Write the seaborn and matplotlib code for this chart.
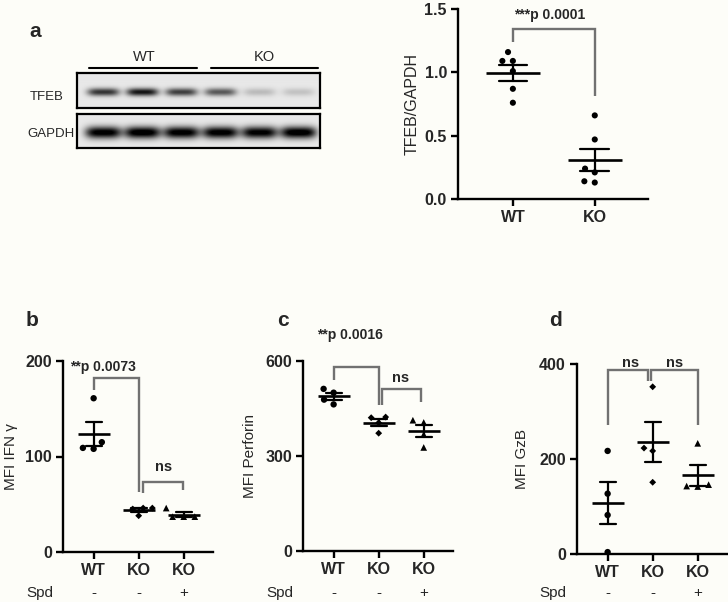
import numpy as np
import pandas as pd
import matplotlib
matplotlib.use("Agg")
import matplotlib.pyplot as plt
import seaborn as sns

# ---- data -------------------------------------------------------------
# panel a: western blot band strengths (WT x3, KO x3) + quantification
blot_groups = ["WT", "KO"]
tfeb_bands = [0.72, 0.85, 0.68, 0.58, 0.18, 0.15]
gapdh_bands = [0.97, 1.00, 0.97, 0.97, 0.95, 1.00]

tfeb_wt = [1.16, 1.09, 1.09, 1.01, 0.87, 0.76]
tfeb_ko = [0.66, 0.47, 0.24, 0.21, 0.14, 0.13]

# panels b-d
groups = ["WT", "KO", "KO+Spd"]
group_ticks = ["WT", "KO", "KO"]
spd_signs = ["-", "-", "+"]

ifng_wt = [161, 115, 109, 108]
ifng_ko = [46, 46, 45, 38]
ifng_spd = [46, 37, 37, 37]

perf_wt = [512, 500, 478, 463]
perf_ko = [423, 421, 405, 372]
perf_spd = [413, 406, 368, 327]

gzb_wt = [217, 127, 82, 4]
gzb_ko = [352, 223, 217, 151]
gzb_spd = [233, 146, 143, 142]

# ---- style ------------------------------------------------------------
BG = "#fdfdf8"
GREY = "#717171"
W, H = 728, 602

sns.set_style("ticks")
plt.rcParams["font.family"] = ["Liberation Sans", "DejaVu Sans"]
plt.rcParams["axes.facecolor"] = BG

fig = plt.figure(figsize=(W / 100, H / 100), dpi=100, facecolor=BG)


def box(x0, y0, x1, y1):
    # pixel box -> figure fraction rect
    return [x0 / W, 1 - y1 / H, (x1 - x0) / W, (y1 - y0) / H]


def ftext(x, y, s, **kw):
    fig.text(x / W, 1 - y / H, s, **kw)


def long_df(*cols):
    rows = [(g, v) for g, vals in zip(groups, cols) for v in vals]
    return pd.DataFrame(rows, columns=["group", "value"])


def style_axes(ax):
    sns.despine(ax=ax)
    for s in ("left", "bottom"):
        ax.spines[s].set_linewidth(1.7)
        ax.spines[s].set_color("black")
    ax.tick_params(width=1.7, length=5, labelsize=11.5, color="black", pad=3)
    for lab in ax.get_xticklabels() + ax.get_yticklabels():
        lab.set_fontweight("bold")


def dots(ax, df, order, marks, sizes, mean_w):
    for g, m, s in zip(order, marks, sizes):
        sns.swarmplot(data=df[df.group == g], x="group", y="value", order=order,
                      marker=m, size=s, color="black", edgecolor="none",
                      linewidth=2.8, ax=ax, zorder=3)
    sns.pointplot(data=df, x="group", y="value", order=order, errorbar="se",
                  capsize=0.35, color="black", markers="_", markersize=mean_w,
                  markeredgewidth=1.9, linestyle="none",
                  err_kws={"linewidth": 1.6}, ax=ax)


def bracket(ax, x0, x1, top, y0, y1):
    ax.plot([x0, x0, x1, x1], [y0, top, top, y1], color=GREY, lw=1.7,
            clip_on=False, solid_joinstyle="miter", solid_capstyle="butt")


def blot(ax, bands, half_w, half_h):
    h, w = 35, 243
    yy, xx = np.mgrid[0:h, 0:w]
    img = np.full((h, w), 0.09)
    for i, v in enumerate(bands):
        cx = 26 + 39 * i
        img += v * np.exp(-(np.abs(xx - cx) / half_w) ** 4 - ((yy - 19) / half_h) ** 2)
    ax.imshow(np.clip(img, 0, 1), cmap="gray_r", vmin=0, vmax=1,
              aspect="auto", interpolation="bilinear")
    ax.set_xticks([])
    ax.set_yticks([])
    for s in ax.spines.values():
        s.set_linewidth(1.6)
        s.set_color("black")


def place_ylabel(ax, center_px):
    # ylabel anchor is the right edge of the rotated text (~7 px from its centre)
    x0 = ax.get_position().x0 * W
    wpx = ax.get_position().width * W
    ax.yaxis.set_label_coords((center_px + 7 - x0) / wpx, 0.5)


# ---- panel a : blot ---------------------------------------------------
ax_t = fig.add_axes(box(77, 73, 320, 108))
blot(ax_t, tfeb_bands, 16, 3.8)
ax_g = fig.add_axes(box(77, 114, 320, 148))
blot(ax_g, gapdh_bands, 18, 6)

ftext(35, 37, "a", fontsize=15, fontweight="bold", ha="center", va="baseline")
ftext(144, 57, blot_groups[0], fontsize=10.5, ha="center", va="center")
ftext(264, 57, blot_groups[1], fontsize=10.5, ha="center", va="center")
fig.add_artist(plt.Line2D([89 / W, 197 / W], [1 - 68 / H] * 2, color="black", lw=1.5))
fig.add_artist(plt.Line2D([211 / W, 318 / W], [1 - 68 / H] * 2, color="black", lw=1.5))
ftext(30, 97, "TFEB", fontsize=9.5, ha="left", va="center")
ftext(27, 134, "GAPDH", fontsize=9.5, ha="left", va="center")

# ---- panel a : quantification -----------------------------------------
ax_a = fig.add_axes(box(458, 9, 648, 199))
df_a = pd.DataFrame({"group": ["WT"] * len(tfeb_wt) + ["KO"] * len(tfeb_ko),
                     "value": tfeb_wt + tfeb_ko})
dots(ax_a, df_a, ["WT", "KO"], ["o", "o"], [4.4, 4.4], 39)
ax_a.set_xlim(-0.67, 1.65)
ax_a.set_ylim(0, 1.5)
ax_a.set_yticks([0, 0.5, 1.0, 1.5])
ax_a.set_yticklabels(["0.0", "0.5", "1.0", "1.5"])
ax_a.set_xticks([0, 1])
ax_a.set_xticklabels(["WT", "KO"])
ax_a.set_xlabel("")
ax_a.set_ylabel("TFEB/GAPDH", fontsize=11.5)
place_ylabel(ax_a, 413)
style_axes(ax_a)
bracket(ax_a, 0, 1, 1.345, 1.237, 0.81)
ax_a.text(0.45, 1.45, "***p 0.0001", fontsize=10, fontweight="bold",
          ha="center", va="center", clip_on=False)

# ---- panels b-d -------------------------------------------------------
panels = [
    ("b", box(63, 361, 213, 552), long_df(ifng_wt, ifng_ko, ifng_spd),
     200, [0, 100, 200], "MFI IFN \u03b3", 32, 40, 11),
    ("c", box(303, 361, 453, 551), long_df(perf_wt, perf_ko, perf_spd),
     600, [0, 300, 600], "MFI Perforin", 283, 280, 250),
    ("d", box(577, 364, 727, 554), long_df(gzb_wt, gzb_ko, gzb_spd),
     400, [0, 200, 400], "MFI GzB", 555, 553, 522),
]

axes = {}
for letter, rect, df, ymax, yt, ylab, lx, spdx, labx in panels:
    ax = fig.add_axes(rect)
    dots(ax, df, groups, ["o", "D", "^"], [4.6, 3.5, 4.8], 23)
    ax.set_xlim(-0.68, 2.65)
    ax.set_ylim(0, ymax)
    ax.set_yticks(yt)
    ax.set_xticks([0, 1, 2])
    ax.set_xticklabels(group_ticks)
    ax.set_xlabel("")
    ax.set_ylabel(ylab, fontsize=11)
    place_ylabel(ax, labx)
    style_axes(ax)
    ftext(lx, 326, letter, fontsize=15, fontweight="bold", ha="center", va="baseline")
    ftext(spdx, 597, "Spd", fontsize=11, ha="center", va="baseline")
    for i, s in enumerate(spd_signs):
        ax.annotate(s, xy=(i, 1 - 597 / H), xycoords=("data", "figure fraction"),
                    fontsize=11, ha="center", va="baseline")
    axes[letter] = ax

ax = axes["b"]
bracket(ax, 0, 1, 182, 170, 63)
bracket(ax, 1.1, 1.98, 73, 62, 65)
ax.text(0.2, 194, "**p 0.0073", fontsize=10, fontweight="bold", ha="center",
        va="center", clip_on=False)
ax.text(1.56, 89, "ns", fontsize=10.5, fontweight="bold", ha="center", va="center")

ax = axes["c"]
bracket(ax, 0, 1, 582, 540, 461)
bracket(ax, 1.08, 1.94, 511, 461, 470)
ax.text(0.36, 682, "**p 0.0016", fontsize=10, fontweight="bold", ha="center",
        va="center", clip_on=False)
ax.text(1.49, 545, "ns", fontsize=10.5, fontweight="bold", ha="center", va="center")

ax = axes["d"]
bracket(ax, 0, 0.89, 388, 272, 365)
bracket(ax, 0.96, 2.0, 388, 365, 272)
ax.text(0.5, 403, "ns", fontsize=10.5, fontweight="bold", ha="center",
        va="center", clip_on=False)
ax.text(1.48, 403, "ns", fontsize=10.5, fontweight="bold", ha="center",
        va="center", clip_on=False)

fig.savefig("out.png", dpi=100, facecolor=BG)
